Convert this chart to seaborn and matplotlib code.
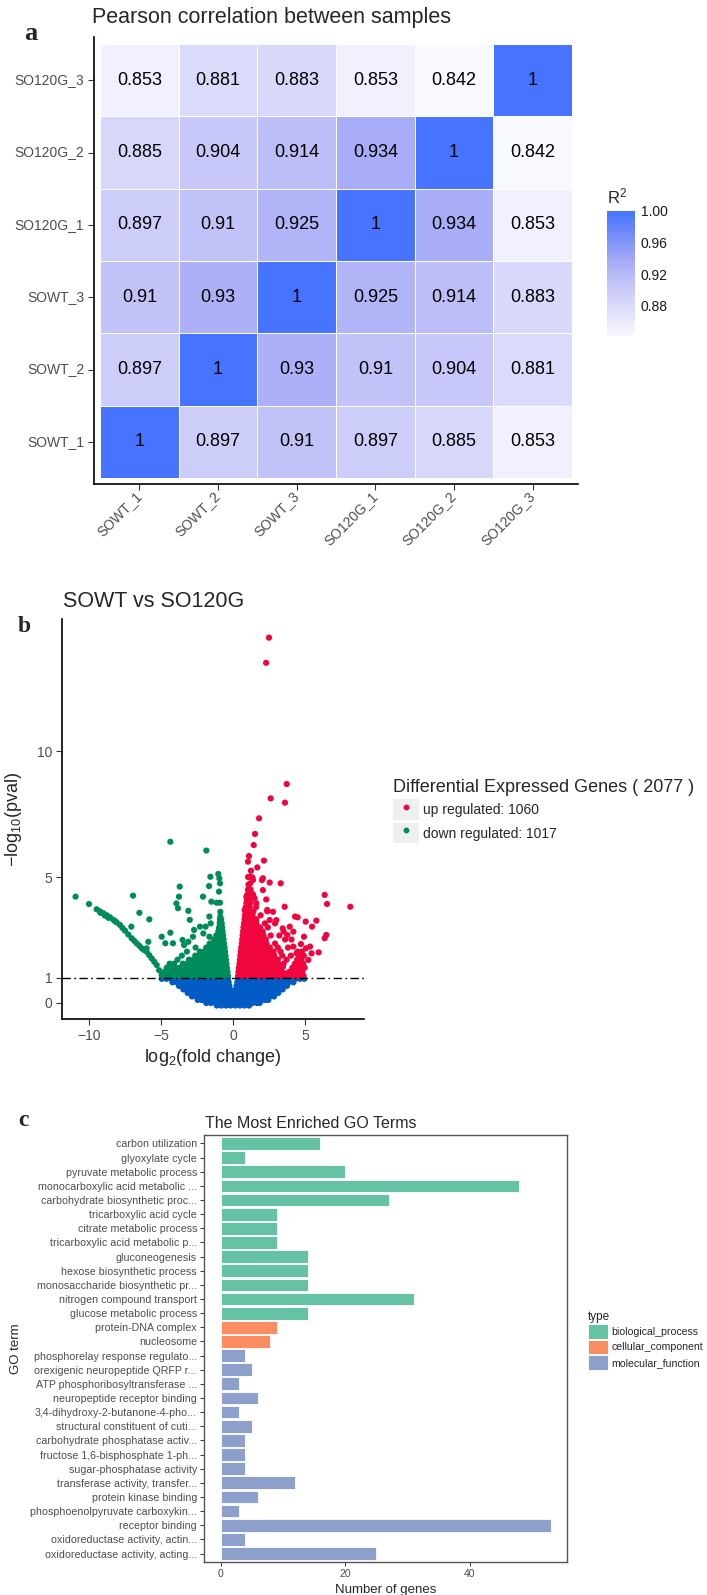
import matplotlib
matplotlib.use("Agg")
import matplotlib.pyplot as plt
import numpy as np
import pandas as pd
import seaborn as sns
from matplotlib.colors import LinearSegmentedColormap
from matplotlib.patches import Patch
from matplotlib.lines import Line2D
from matplotlib.legend_handler import HandlerTuple

# ------------------------------------------------------------------ data
# (a) Pearson correlation heatmap
samples = ["SOWT_1", "SOWT_2", "SOWT_3", "SO120G_1", "SO120G_2", "SO120G_3"]
row_labels = ["SO120G_3", "SO120G_2", "SO120G_1", "SOWT_3", "SOWT_2", "SOWT_1"]
r_SO120G_3 = [0.853, 0.881, 0.883, 0.853, 0.842, 1]
r_SO120G_2 = [0.885, 0.904, 0.914, 0.934, 1, 0.842]
r_SO120G_1 = [0.897, 0.91, 0.925, 1, 0.934, 0.853]
r_SOWT_3 = [0.91, 0.93, 1, 0.925, 0.914, 0.883]
r_SOWT_2 = [0.897, 1, 0.93, 0.91, 0.904, 0.881]
r_SOWT_1 = [1, 0.897, 0.91, 0.897, 0.885, 0.853]
cbar_ticks = [0.88, 0.92, 0.96, 1.00]

# (b) volcano plot: points (rows of the dense clouds + outliers)
ns_rows = [
    (0.96, [-4.95, -4.63, -4.31, -3.99, -3.67, -3.35, -3.03, -2.71, -2.39, -2.07, -1.75, -1.43, -1.11, -0.79, -0.55, -0.35,
            0.35, 0.56, 0.81, 1.13, 1.45, 1.77, 2.09, 2.41, 2.73, 3.05, 3.37, 3.69, 4.01, 4.33, 4.65, 4.95]),
    (0.82, [-4.2, -3.9, -3.58, -3.26, -2.94, -2.62, -2.3, -1.98, -1.66, -1.34, -1.02, -0.72, -0.46, -0.3,
            0.3, 0.48, 0.7, 0.98, 1.3, 1.62, 1.94, 2.26, 2.58, 2.9, 3.22, 3.54, 3.86, 4.2]),
    (0.68, [-3.75, -3.45, -3.13, -2.81, -2.49, -2.17, -1.85, -1.53, -1.21, -0.89, -0.57, -0.25,
            0.25, 0.55, 0.87, 1.19, 1.51, 1.83, 2.15, 2.47, 2.79, 3.11, 3.43, 3.75]),
    (0.54, [-3.45, -3.14, -2.82, -2.5, -2.18, -1.86, -1.54, -1.22, -0.9, -0.58, -0.2,
            0.2, 0.58, 0.9, 1.22, 1.54, 1.86, 2.18, 2.5, 2.82, 3.14, 3.45]),
    (0.40, [-3.15, -2.84, -2.52, -2.2, -1.88, -1.56, -1.24, -0.92, -0.6, -0.28, 0.02, 0.3, 0.6, 0.92, 1.24,
            1.56, 1.88, 2.2, 2.52, 2.84, 3.15]),
    (0.26, [-2.85, -2.54, -2.22, -1.9, -1.58, -1.26, -0.94, -0.62, -0.3, 0.02, 0.34, 0.66, 0.98, 1.3, 1.62,
            1.94, 2.26, 2.58, 2.85]),
    (0.12, [-2.45, -2.16, -1.84, -1.52, -1.2, -0.88, -0.56, -0.24, 0.08, 0.4, 0.72, 1.04, 1.36, 1.68, 2.0,
            2.24, 2.45]),
    (0.00, [-1.85, -1.54, -1.22, -0.9, -0.58, -0.26, 0.06, 0.38, 0.7, 1.02, 1.34, 1.66, 1.85]),
    (-0.10, [-1.12, -0.8, -0.48, -0.16, 0.16, 0.48, 0.8, 1.12]),
]
down_rows = [
    (1.08, [-4.88, -4.58, -4.28, -3.98, -3.68, -3.38, -3.08, -2.78, -2.48, -2.18, -1.88, -1.58, -1.28, -0.98,
            -0.68, -0.35]),
    (1.24, [-4.74, -4.44, -4.14, -3.84, -3.54, -3.24, -2.94, -2.64, -2.34, -2.04, -1.74, -1.44, -1.14, -0.84,
            -0.6, -0.38]),
    (1.40, [-4.6, -4.3, -4.0, -3.7, -3.28, -2.98, -2.68, -2.38, -2.08, -1.78, -1.48, -1.18, -0.9, -0.66, -0.42]),
    (1.56, [-4.4, -4.08, -3.48, -3.16, -2.86, -2.56, -2.26, -1.96, -1.66, -1.36, -1.06, -0.76, -0.45]),
    (1.72, [-3.85, -3.06, -2.76, -2.46, -2.16, -1.86, -1.56, -1.26, -0.96, -0.72, -0.48]),
    (1.88, [-3.55, -2.62, -2.32, -2.02, -1.72, -1.42, -1.12, -0.82, -0.52]),
    (2.04, [-3.2, -2.3, -2.0, -1.7, -1.4, -1.1, -0.8, -0.55]),
    (2.20, [-2.6, -1.86, -1.56, -1.26, -0.98, -0.78, -0.58]),
    (2.36, [-1.62, -1.32, -1.04, -0.82, -0.62]),
    (2.52, [-1.32, -1.06, -0.86, -0.65]),
    (2.68, [-1.16, -0.92, -0.68]),
    (2.84, [-1.02, -0.86, -0.72]),
    (3.00, [-0.96, -0.75]),
    (3.16, [-0.92, -0.78]),
    (3.32, [-0.9, -0.82]),
]
down_extra_x = [-9.47, -9.25, -9.0, -8.77, -8.54, -8.3, -8.08, -7.85, -7.68, -7.5, -7.27, -7.04, -6.86, -6.69,
                -6.5, -6.34, -6.17, -6.0, -5.82, -5.65, -5.47, -5.3, -5.13, -4.95, -9.2, -8.9, -8.65, -8.2,
                -10.93, -10.0, -6.94, -6.5, -5.81, -7.06, -4.35, -1.85, -3.7, -3.75, -3.93, -3.82, -3.1, -3.0,
                -2.7, -2.78, -3.1, -3.4, -3.5, -4.17, -4.35, -4.7, -4.95, -6.0, -5.88, -2.08, -1.57, -1.66,
                -1.02, -0.95, -0.9, -0.97, -1.5, -1.13, -0.9, -1.64, -1.55, -1.64, -2.29, -2.06, -1.9, -0.88,
                -0.88, -0.9, -0.95]
down_extra_y = [3.72, 3.64, 3.56, 3.48, 3.40, 3.30, 3.20, 3.10, 2.98, 2.87, 2.72, 2.57, 2.47, 2.37,
                2.27, 2.17, 2.10, 2.04, 1.90, 1.77, 1.64, 1.51, 1.30, 1.11, 3.58, 3.47, 3.38, 3.25,
                4.22, 3.93, 4.26, 3.58, 3.32, 3.03, 6.40, 6.05, 4.62, 4.22, 3.95, 3.76, 3.66, 3.30,
                2.90, 2.63, 2.43, 2.30, 2.50, 2.37, 2.79, 2.37, 2.63, 2.17, 2.43, 4.22, 5.01, 4.64,
                5.12, 4.95, 4.75, 4.42, 4.02, 3.98, 3.98, 3.43, 3.16, 2.63, 3.03, 2.76, 3.03, 3.62,
                3.43, 3.23, 2.96]
up_rows = [
    (1.08, [0.35, 0.62, 0.92, 1.22, 1.52, 1.82, 2.12, 2.42, 2.72, 3.02, 3.32, 3.62, 4.02, 4.32, 4.62, 4.9]),
    (1.24, [0.38, 0.66, 0.96, 1.26, 1.56, 1.86, 2.16, 2.46, 2.76, 3.06, 3.36, 3.92, 4.22, 4.52, 4.82]),
    (1.40, [0.41, 0.7, 1.0, 1.3, 1.6, 1.9, 2.2, 2.5, 2.8, 3.1, 3.38, 4.12, 4.42, 4.72, 4.98]),
    (1.56, [0.45, 0.74, 1.04, 1.34, 1.64, 1.94, 2.24, 2.54, 2.84, 3.14, 3.52, 4.3, 4.6, 4.88]),
    (1.72, [0.48, 0.78, 1.08, 1.38, 1.68, 1.98, 2.28, 2.58, 2.88, 3.12, 3.72, 4.46, 4.76]),
    (1.88, [0.51, 0.81, 1.11, 1.41, 1.71, 2.01, 2.31, 2.61, 2.86, 3.42, 4.02, 4.62, 4.92]),
    (2.04, [0.54, 0.84, 1.14, 1.44, 1.74, 2.04, 2.34, 2.62, 2.82, 3.3, 4.48, 4.78]),
    (2.20, [0.57, 0.87, 1.17, 1.47, 1.77, 2.07, 2.35, 2.56, 3.12, 3.82]),
    (2.36, [0.61, 0.9, 1.2, 1.5, 1.8, 2.08, 2.32, 2.92]),
    (2.52, [0.64, 0.94, 1.24, 1.54, 1.84, 2.1, 2.28, 3.62, 4.06]),
    (2.68, [0.67, 0.97, 1.27, 1.57, 1.87, 2.12, 2.62, 3.22]),
    (2.84, [0.7, 1.0, 1.3, 1.6, 1.9, 2.06, 3.52]),
    (3.00, [0.73, 1.03, 1.33, 1.63, 1.88, 2.42]),
    (3.16, [0.77, 1.06, 1.36, 1.62, 2.22, 2.92]),
    (3.32, [0.8, 1.1, 1.4, 1.62]),
    (3.48, [0.83, 1.12, 1.36, 1.92]),
    (3.64, [0.86, 1.12, 1.42, 2.38]),
    (3.80, [0.89, 1.16, 1.6]),
    (3.96, [0.93, 1.2]),
    (4.12, [0.96, 1.24]),
    (4.30, [1.0, 1.4]),
    (4.50, [1.04, 1.22]),
    (4.70, [1.08]),
]
up_extra_x = [2.5, 2.3, 3.73, 2.62, 3.61, 1.81, 1.53, 1.44, 1.11, 2.15, 1.04, 1.69, 1.2, 1.35, 2.01, 2.08,
              2.55, 3.31, 6.37, 6.53, 8.15, 3.59, 2.31, 2.08, 1.39, 1.2, 1.3, 1.5, 1.62, 0.93, 0.97, 0.81,
              2.38, 2.55, 2.78, 3.01, 3.45, 3.77, 3.94, 4.19, 4.31, 4.49, 5.05, 5.49, 5.79, 6.48, 6.37,
              5.95, 4.93, 4.72, 4.19, 4.42, 5.07, 5.35, 5.46, 5.23, 3.47, 3.59, 1.05, 1.25]
up_extra_y = [14.5, 13.5, 8.69, 8.12, 7.95, 7.33, 6.71, 6.27, 5.83, 5.65, 5.61, 5.38, 5.02, 4.98, 4.88, 4.95,
              4.78, 4.75, 4.29, 3.93, 3.82, 3.82, 4.11, 4.48, 4.88, 4.75, 4.35, 4.15, 3.96, 4.22, 3.96, 3.69,
              3.69, 3.29, 3.62, 3.29, 2.96, 2.70, 3.03, 2.83, 3.43, 3.40, 3.23, 3.03, 3.27, 2.70, 2.57,
              2.01, 2.63, 2.34, 2.24, 1.97, 2.17, 2.24, 1.97, 1.71, 1.44, 1.18, 5.00, 5.25]
volcano_xticks = [-10, -5, 0, 5]
volcano_yticks = [0, 1, 5, 10]
pval_cutoff = 1
n_up, n_down = 1060, 1017

# (c) GO enrichment
go_terms = ["carbon utilization", "glyoxylate cycle", "pyruvate metabolic process",
            "monocarboxylic acid metabolic ...", "carbohydrate biosynthetic proc...",
            "tricarboxylic acid cycle", "citrate metabolic process", "tricarboxylic acid metabolic p...",
            "gluconeogenesis", "hexose biosynthetic process", "monosaccharide biosynthetic pr...",
            "nitrogen compound transport", "glucose metabolic process", "protein-DNA complex", "nucleosome",
            "phosphorelay response regulato...", "orexigenic neuropeptide QRFP r...",
            "ATP phosphoribosyltransferase ...", "neuropeptide receptor binding",
            "3,4-dihydroxy-2-butanone-4-pho...", "structural constituent of cuti...",
            "carbohydrate phosphatase activ...", "fructose 1,6-bisphosphate 1-ph...",
            "sugar-phosphatase activity", "transferase activity, transfer...", "protein kinase binding",
            "phosphoenolpyruvate carboxykin...", "receptor binding", "oxidoreductase activity, actin...",
            "oxidoreductase activity, acting..."]
go_counts = [16, 4, 20, 48, 27, 9, 9, 9, 14, 14, 14, 31, 14, 9, 8, 4, 5, 3, 6, 3, 5, 4, 4, 4, 12, 6, 3, 53, 4, 25]
go_types = ["biological_process"] * 13 + ["cellular_component"] * 2 + ["molecular_function"] * 15
go_type_names = ["biological_process", "cellular_component", "molecular_function"]
go_colors = ["#66C2A5", "#FC8D62", "#8DA0CB"]
go_xticks = [0, 20, 40]

# ------------------------------------------------------------------ style
sns.set_style("white")
plt.rcParams["font.family"] = ["Liberation Sans", "DejaVu Sans"]
plt.rcParams["mathtext.default"] = "regular"
TXT = "#4D4D4D"

W, H = 707, 1595
fig = plt.figure(figsize=(W / 100, H / 100), dpi=100)


def rect(l, t, r, b):
    return [l / W, 1 - b / H, (r - l) / W, (b - t) / H]


def ftext(x, y, s, **kw):
    fig.text(x / W, 1 - y / H, s, **kw)


# ------------------------------------------------------------------ panel a
corr = pd.DataFrame([r_SO120G_3, r_SO120G_2, r_SO120G_1, r_SOWT_3, r_SOWT_2, r_SOWT_1],
                    index=row_labels, columns=samples)
annot = np.array([[f"{v:g}" for v in row] for row in corr.values])
cmap = LinearSegmentedColormap.from_list(
    "r2", [(0.0, "#F8F8FF"), (0.35, "#CDCDF9"), (0.6, "#A7AAF7"), (1.0, "#4673FF")])

ax_a = fig.add_axes(rect(94, 37, 578, 484))
cax = fig.add_axes(rect(607, 211, 635, 336))
sns.heatmap(corr, ax=ax_a, cbar_ax=cax, cmap=cmap, vmin=0.842, vmax=1.0,
            annot=annot, fmt="", annot_kws=dict(size=13, color="black"),
            linewidths=0.6, linecolor="white")
ax_a.set_xlim(-0.076, 6.076)
ax_a.set_ylim(6.083, -0.097)
for s in ["left", "bottom"]:
    ax_a.spines[s].set_visible(True)
    ax_a.spines[s].set_color("black")
    ax_a.spines[s].set_linewidth(1.2)
for s in ["top", "right"]:
    ax_a.spines[s].set_visible(False)
ax_a.tick_params(length=4, width=0.8, color="#333333", labelsize=10, labelcolor=TXT, pad=3,
                 left=True, bottom=True)
ax_a.set_xticklabels(samples, rotation=45, ha="right", va="center", rotation_mode="anchor")
ax_a.set_yticklabels(row_labels, rotation=0)
ax_a.set_xlabel("")
ax_a.set_ylabel("")

cb = ax_a.collections[0].colorbar
cb.outline.set_visible(False)
cb.set_ticks(cbar_ticks)
cb.set_ticklabels([f"{t:.2f}" for t in cbar_ticks])
cax.tick_params(axis="y", direction="in", length=5, width=1, color="white", labelsize=10,
                labelcolor="#1A1A1A", left=True, right=True, pad=4)
ftext(607, 196, "R$^2$", fontsize=12, va="center")
ftext(92, 18, "Pearson correlation between samples", fontsize=15.5, va="center")
ftext(24, 33, "a", fontsize=19, weight="bold", family="Liberation Serif", va="center")

# ------------------------------------------------------------------ panel b
def rows_to_xy(rows):
    xs = [x for y, r in rows for x in r]
    ys = [y for y, r in rows for _ in r]
    return xs, ys


ns_x, ns_y = rows_to_xy(ns_rows)
dn_x, dn_y = rows_to_xy(down_rows)
up_x, up_y = rows_to_xy(up_rows)
dn_x += down_extra_x
dn_y += down_extra_y
up_x += up_extra_x
up_y += up_extra_y
vol = pd.DataFrame({
    "log2fc": ns_x + dn_x + up_x,
    "nlp": ns_y + dn_y + up_y,
    "status": ["ns"] * len(ns_x) + ["down"] * len(dn_x) + ["up"] * len(up_x),
})
vol_pal = {"ns": "#005BC5", "down": "#008C5A", "up": "#F0053D"}

ax_b = fig.add_axes(rect(62, 619, 364, 1019))
sns.scatterplot(data=vol, x="log2fc", y="nlp", hue="status", palette=vol_pal, s=20,
                linewidth=0, legend=False, ax=ax_b)
ax_b.axhline(pval_cutoff, color="black", lw=1.0, ls=(0, (6, 2.5, 1.2, 2.5)))
ax_b.set_xlim(-11.875, 9.1)
ax_b.set_ylim(-0.635, 15.24)
ax_b.set_xticks(volcano_xticks)
ax_b.set_yticks(volcano_yticks)
for s in ["top", "right"]:
    ax_b.spines[s].set_visible(False)
for s in ["left", "bottom"]:
    ax_b.spines[s].set_color("black")
    ax_b.spines[s].set_linewidth(1.2)
ax_b.tick_params(length=4, width=0.8, color="#333333", labelsize=10, labelcolor=TXT, pad=3,
                 left=True, bottom=True)
ax_b.set_xlabel("log$_2$(fold change)", fontsize=13, labelpad=3)
ax_b.set_ylabel("\u2212log$_{10}$(pval)", fontsize=13, labelpad=9)
ftext(63, 602, "SOWT vs SO120G", fontsize=15.5, va="center")
ftext(18, 626, "b", fontsize=17, weight="bold", family="Liberation Serif", va="center")

key_bg = "#EFEFEF"
h_up = (Patch(fc=key_bg, ec="none"), Line2D([], [], ls="", marker="o", ms=3.2, color=vol_pal["up"]))
h_dn = (Patch(fc=key_bg, ec="none"), Line2D([], [], ls="", marker="o", ms=3.2, color=vol_pal["down"]))
leg_b = fig.legend([h_up, h_dn], [f"up regulated: {n_up}", f"down regulated: {n_down}"],
                   handler_map={tuple: HandlerTuple(ndivide=1, pad=0)},
                   title=f"Differential Expressed Genes ( {n_up + n_down} )", title_fontsize=13,
                   fontsize=10, loc="upper left", bbox_to_anchor=(393 / W, 1 - 779 / H),
                   frameon=False, handlelength=1.85, handleheight=1.85, labelspacing=0.25,
                   handletextpad=0.3, borderpad=0, borderaxespad=0, alignment="left")

# ------------------------------------------------------------------ panel c
go = pd.DataFrame({"term": go_terms, "count": go_counts, "type": go_types})
ax_c = fig.add_axes(rect(204, 1135, 567, 1562))
sns.barplot(data=go, x="count", y="term", hue="type", hue_order=go_type_names,
            palette=dict(zip(go_type_names, go_colors)), saturation=1, dodge=False, width=0.9,
            orient="h", edgecolor="white", linewidth=0.6, legend=False, ax=ax_c)
ax_c.set_xlim(-2.65, 55.65)
ax_c.set_ylim(29.6, -0.6)
ax_c.set_xticks(go_xticks)
for s in ax_c.spines.values():
    s.set_visible(True)
    s.set_color("#555555")
    s.set_linewidth(1.0)
ax_c.tick_params(length=3, width=0.7, color="#333333", labelcolor=TXT, pad=2, left=True, bottom=True)
ax_c.tick_params(axis="y", labelsize=7.7)
ax_c.tick_params(axis="x", labelsize=7.5)
ax_c.grid(False)
ax_c.set_xlabel("Number of genes", fontsize=9.5, labelpad=4)
ax_c.set_ylabel("GO term", fontsize=9.5, labelpad=6)
ftext(205, 1123, "The Most Enriched GO Terms", fontsize=11.5, va="center")
ftext(18, 1120, "c", fontsize=17, weight="bold", family="Liberation Serif", va="center")

go_handles = [Patch(fc=c, ec="white", lw=0.6) for c in go_colors]
fig.legend(go_handles, go_type_names, title="type", title_fontsize=8.5, fontsize=7.6,
           loc="upper left", bbox_to_anchor=(588 / W, 1 - 1311 / H), frameon=False,
           handlelength=1.9, handleheight=1.75, labelspacing=0.1, handletextpad=0.35,
           borderpad=0, borderaxespad=0, alignment="left")

fig.savefig("out.png", dpi=100)
